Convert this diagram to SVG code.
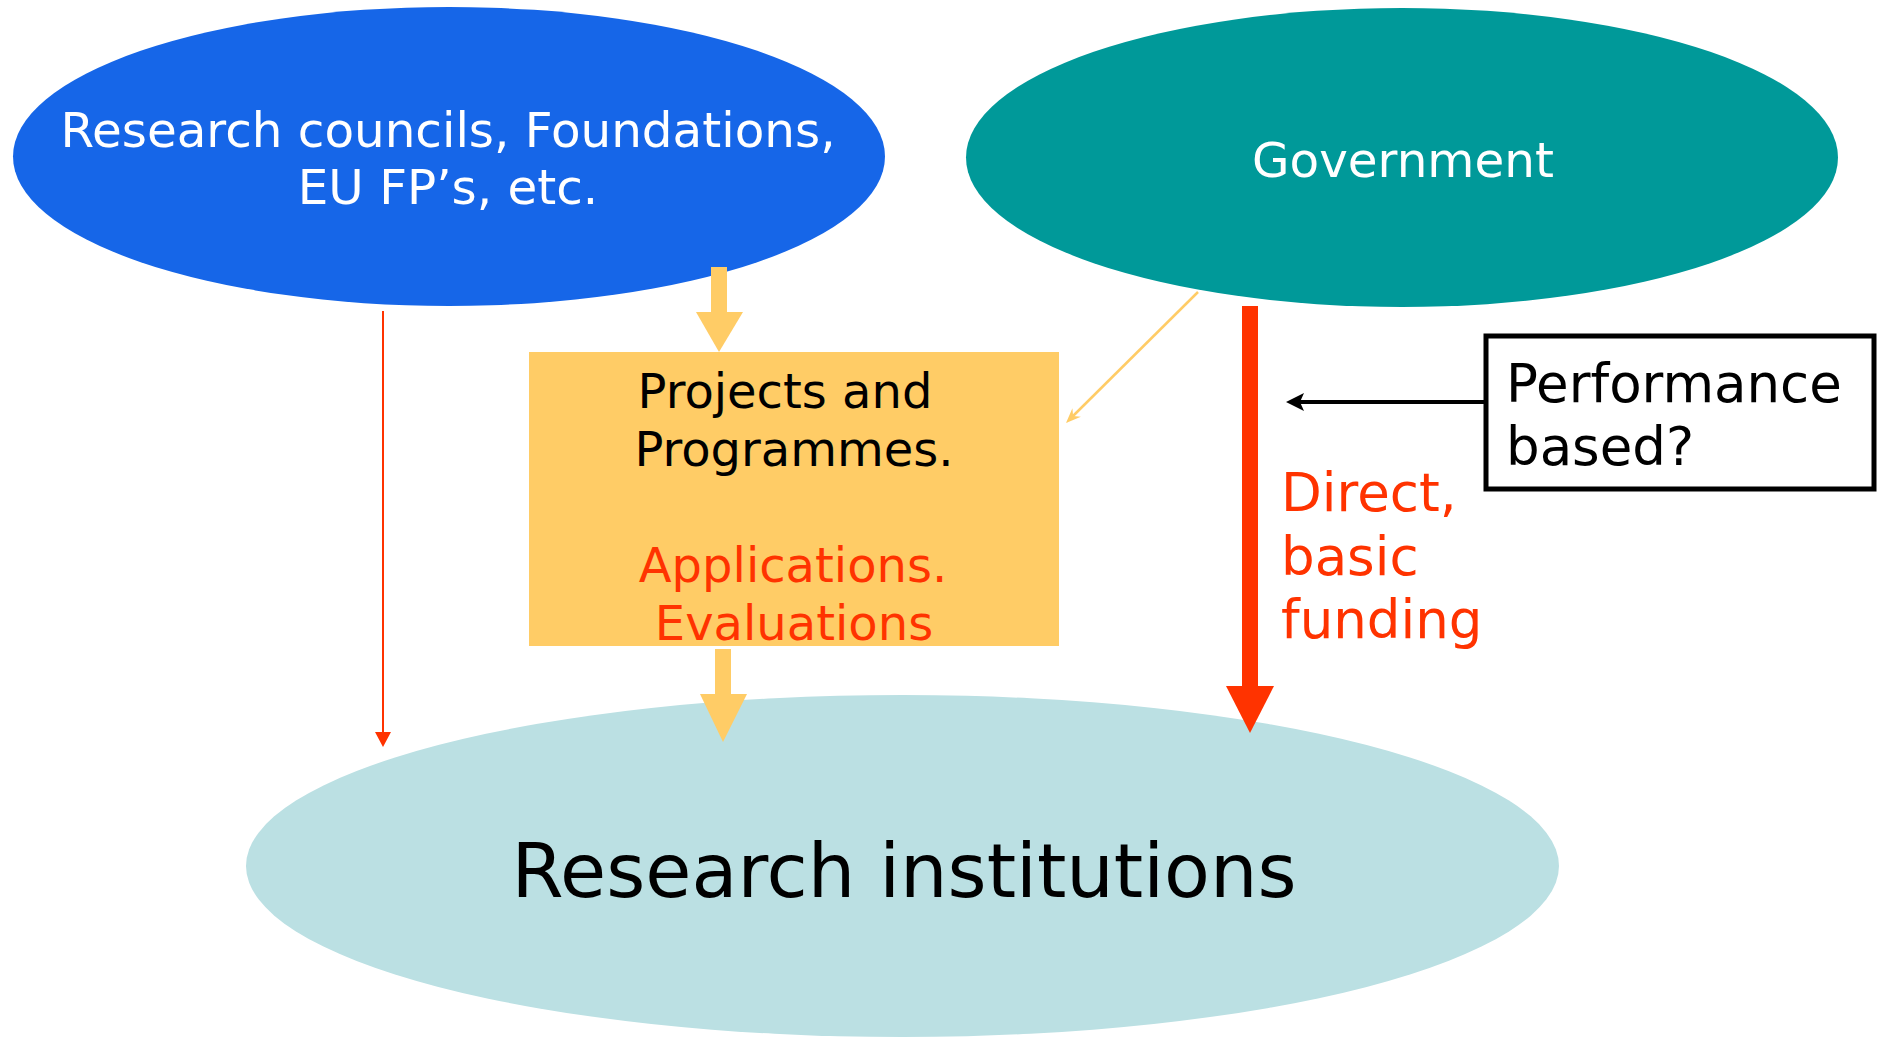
<svg xmlns="http://www.w3.org/2000/svg" width="1887" height="1037" viewBox="0 0 1887 1037">
<style>
text{font-family:"DejaVu Sans","Liberation Sans",sans-serif}
.w{fill:#ffffff;font-size:48.4px;text-anchor:middle}
.k{fill:#000000}
.r{fill:#FF3300}
.c{text-anchor:middle;font-size:48px}
.o{fill:#FFCC66}
</style>
<rect width="1887" height="1037" fill="#ffffff"/>
<g id="research-institutions">
<ellipse cx="902.5" cy="866" rx="656.5" ry="171" fill="#BBE0E3"/>
<text x="904" y="897" class="k" style="font-size:75px;text-anchor:middle">Research institutions</text>
</g>
<g id="research-councils">
<ellipse cx="449" cy="156.5" rx="436" ry="149.5" fill="#1666E8"/>
<text class="w"><tspan x="448" y="147">Research councils, Foundations,</tspan><tspan x="448" y="204">EU FP’s, etc.</tspan></text>
</g>
<g id="government">
<ellipse cx="1402" cy="157.5" rx="436" ry="149.5" fill="#009999"/>
<text x="1403" y="177" class="w">Government</text>
</g>
<g id="projects">
<rect x="529" y="352" width="530" height="294" fill="#FFCC66"/>
<text class="c k"><tspan x="785" y="408">Projects and</tspan><tspan x="794" y="466">Programmes.</tspan></text>
<text class="c r"><tspan x="793" y="582">Applications.</tspan><tspan x="794" y="640">Evaluations</tspan></text>
</g>
<g id="performance">
<rect x="1486" y="336" width="388" height="153" fill="#ffffff" stroke="#000000" stroke-width="5"/>
<text class="k" style="font-size:53px"><tspan x="1506" y="402">Performance</tspan><tspan x="1506" y="465">based?</tspan></text>
</g>
<g id="direct-label">
<text class="r" style="font-size:53px"><tspan x="1281" y="511">Direct,</tspan><tspan x="1281" y="575">basic</tspan><tspan x="1281" y="638">funding</tspan></text>
</g>
<g id="connectors">
<rect x="711" y="267" width="16" height="46" class="o"/>
<polygon points="696,312 743,312 719,352" class="o"/>
<rect x="715" y="649" width="16" height="46" class="o"/>
<polygon points="700,694 747,694 723,742" class="o"/>
<rect x="1242" y="306" width="16" height="381" class="r"/>
<polygon points="1226,686 1274,686 1250,733" class="r"/>
<line x1="383" y1="311" x2="383" y2="733" stroke="#FF3300" stroke-width="2"/>
<polygon points="375,732 391,732 383,747" class="r"/>
<line x1="1484" y1="402" x2="1298" y2="402" stroke="#000000" stroke-width="4"/>
<polygon points="1286,402 1304,393 1300,402 1304,411" fill="#000000"/>
<line x1="1198" y1="292" x2="1072" y2="417" stroke="#FFCC66" stroke-width="2.5"/>
<polygon points="1066,423 1072.4,408.2 1073.1,416 1080.9,416.7" class="o"/>
</g>
</svg>
